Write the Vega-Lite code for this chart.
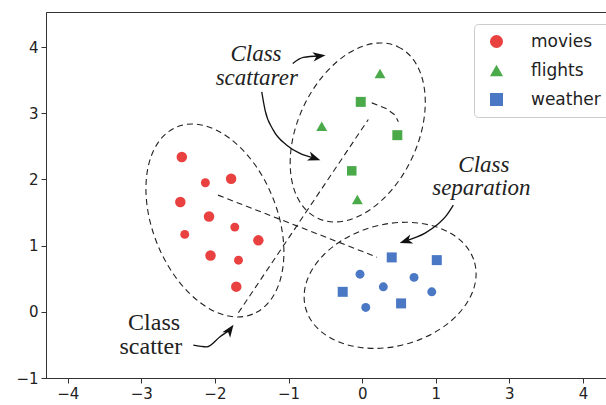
{
  "$schema": "https://vega.github.io/schema/vega-lite/v6.json",
  "width": 560,
  "height": 366,
  "autosize": "none",
  "padding": {"left": 46, "top": 12, "right": 0, "bottom": 27},
  "background": "white",
  "config": {
    "view": {"stroke": "#333", "strokeWidth": 1},
    "axis": {"domainColor": "#333", "tickColor": "#333", "labelColor": "#222", "labelFont": "DejaVu Sans", "labelFontSize": 15, "tickSize": 5, "labelPadding": 3, "grid": false, "title": null, "labelFlush": false},
    "legend": {"labelFont": "DejaVu Sans", "labelFontSize": 17, "labelColor": "#222"}
  },
  "datasets": {
    "points": [
      {"x": -2.45, "y": 2.34, "category": "movies", "marker": "circle", "weight": "large"},
      {"x": -2.13, "y": 1.95, "category": "movies", "marker": "circle", "weight": "small"},
      {"x": -1.78, "y": 2.01, "category": "movies", "marker": "circle", "weight": "large"},
      {"x": -2.47, "y": 1.66, "category": "movies", "marker": "circle", "weight": "large"},
      {"x": -2.08, "y": 1.44, "category": "movies", "marker": "circle", "weight": "large"},
      {"x": -1.73, "y": 1.28, "category": "movies", "marker": "circle", "weight": "small"},
      {"x": -2.41, "y": 1.17, "category": "movies", "marker": "circle", "weight": "small"},
      {"x": -1.41, "y": 1.08, "category": "movies", "marker": "circle", "weight": "large"},
      {"x": -2.06, "y": 0.85, "category": "movies", "marker": "circle", "weight": "large"},
      {"x": -1.68, "y": 0.78, "category": "movies", "marker": "circle", "weight": "small"},
      {"x": -1.71, "y": 0.38, "category": "movies", "marker": "circle", "weight": "large"},
      {"x": 0.243, "y": 3.601, "category": "flights", "marker": "triangle", "weight": "xlarge"},
      {"x": -0.019, "y": 3.172, "category": "flights", "marker": "square", "weight": "medium"},
      {"x": -0.549, "y": 2.805, "category": "flights", "marker": "triangle", "weight": "xlarge"},
      {"x": 0.478, "y": 2.669, "category": "flights", "marker": "square", "weight": "medium"},
      {"x": -0.141, "y": 2.13, "category": "flights", "marker": "square", "weight": "medsmall"},
      {"x": -0.065, "y": 1.698, "category": "flights", "marker": "triangle", "weight": "xlarge"},
      {"x": 0.402, "y": 0.822, "category": "weather", "marker": "square", "weight": "medium"},
      {"x": 1.014, "y": 0.781, "category": "weather", "marker": "square", "weight": "medium"},
      {"x": -0.029, "y": 0.569, "category": "weather", "marker": "circle", "weight": "small"},
      {"x": 0.705, "y": 0.52, "category": "weather", "marker": "circle", "weight": "small"},
      {"x": 0.288, "y": 0.378, "category": "weather", "marker": "circle", "weight": "small"},
      {"x": 0.946, "y": 0.302, "category": "weather", "marker": "circle", "weight": "small"},
      {"x": -0.264, "y": 0.302, "category": "weather", "marker": "square", "weight": "medium"},
      {"x": 0.529, "y": 0.127, "category": "weather", "marker": "square", "weight": "medium"},
      {"x": 0.049, "y": 0.066, "category": "weather", "marker": "circle", "weight": "small"}
    ],
    "dashed": [
      {"id": "a", "seq": 1, "x": -1.958, "y": 1.763},
      {"id": "a", "seq": 2, "x": 0.202, "y": 0.826},
      {"id": "b", "seq": 1, "x": -1.682, "y": -0.015},
      {"id": "b", "seq": 2, "x": 0.084, "y": 2.906},
      {"id": "c", "seq": 1, "x": 0.131, "y": 3.157},
      {"id": "c", "seq": 2, "x": 0.324, "y": 3.073},
      {"id": "c", "seq": 3, "x": 0.447, "y": 2.972},
      {"id": "c", "seq": 4, "x": 0.492, "y": 2.87}
    ],
    "arrows": [
      {"arrow": 1, "seq": 1, "x": -0.943, "y": 3.752},
      {"arrow": 1, "seq": 2, "x": -0.799, "y": 3.843},
      {"arrow": 1, "seq": 3, "x": -0.583, "y": 3.865},
      {"arrow": 2, "seq": 1, "x": -1.364, "y": 3.323},
      {"arrow": 2, "seq": 2, "x": -1.319, "y": 3.049},
      {"arrow": 2, "seq": 3, "x": -1.207, "y": 2.745},
      {"arrow": 2, "seq": 4, "x": -1.024, "y": 2.518},
      {"arrow": 2, "seq": 5, "x": -0.844, "y": 2.393},
      {"arrow": 2, "seq": 6, "x": -0.649, "y": 2.322},
      {"arrow": 3, "seq": 1, "x": 1.239, "y": 1.612},
      {"arrow": 3, "seq": 2, "x": 1.149, "y": 1.461},
      {"arrow": 3, "seq": 3, "x": 1.014, "y": 1.31},
      {"arrow": 3, "seq": 4, "x": 0.855, "y": 1.189},
      {"arrow": 3, "seq": 5, "x": 0.592, "y": 1.071},
      {"arrow": 4, "seq": 1, "x": -2.293, "y": -0.503},
      {"arrow": 4, "seq": 2, "x": -2.111, "y": -0.529},
      {"arrow": 4, "seq": 3, "x": -1.931, "y": -0.378},
      {"arrow": 4, "seq": 4, "x": -1.797, "y": -0.273}
    ],
    "heads": [
      {"arrow": 1, "x": -0.583, "y": 3.865, "heading": -8},
      {"arrow": 2, "x": -0.649, "y": 2.322, "heading": 19},
      {"arrow": 3, "x": 0.592, "y": 1.071, "heading": 162},
      {"arrow": 4, "x": -1.797, "y": -0.273, "heading": -55}
    ],
    "italic": [
      {"x": -1.442, "y": 3.787, "label": "Class"},
      {"x": -1.432, "y": 3.425, "label": "scattarer"},
      {"x": 1.654, "y": 2.115, "label": "Class"},
      {"x": 1.62, "y": 1.763, "label": "separation"}
    ],
    "upright": [
      {"x": -2.827, "y": -0.277, "label": "Class"},
      {"x": -2.871, "y": -0.639, "label": "scatter"}
    ]
  },
  "encoding": {
    "x": {"field": "x", "type": "quantitative", "scale": {"domain": [-4.295, 3.313], "nice": false, "zero": false},
      "axis": {"values": [-4, -3, -2, -1, 0, 1, 2, 3], "labelExpr": "datum.value >= 2 ? format(datum.value + 1, 'd') : format(datum.value, 'd')"}},
    "y": {"field": "y", "type": "quantitative", "scale": {"domain": [-1, 4.53], "nice": false, "zero": false},
      "axis": {"values": [-1, 0, 1, 2, 3, 4]}}
  },
  "layer": [
    {
      "data": {"values": [{"x": -2.0, "y": 1.38}]},
      "mark": {"type": "point", "filled": false, "stroke": "#222", "strokeWidth": 1.1, "strokeDash": [6, 4], "opacity": 1, "angle": 68, "size": 40804,
        "shape": "M 1 0 C 1 0.340 0.5523 0.616 0 0.616 C -0.5523 0.616 -1 0.340 -1 0 C -1 -0.340 -0.5523 -0.616 0 -0.616 C 0.5523 -0.616 1 -0.340 1 0 Z"}
    },
    {
      "data": {"values": [{"x": -0.06, "y": 2.71}]},
      "mark": {"type": "point", "filled": false, "stroke": "#222", "strokeWidth": 1.1, "strokeDash": [6, 4], "opacity": 1, "angle": -65, "size": 35872,
        "shape": "M 1 0 C 1 0.350 0.5523 0.634 0 0.634 C -0.5523 0.634 -1 0.350 -1 0 C -1 -0.350 -0.5523 -0.634 0 -0.634 C 0.5523 -0.634 1 -0.350 1 0 Z"}
    },
    {
      "data": {"values": [{"x": 0.38, "y": 0.40}]},
      "mark": {"type": "point", "filled": false, "stroke": "#222", "strokeWidth": 1.1, "strokeDash": [6, 4], "opacity": 1, "angle": -15, "size": 30625,
        "shape": "M 1 0 C 1 0.384 0.5523 0.696 0 0.696 C -0.5523 0.696 -1 0.384 -1 0 C -1 -0.384 -0.5523 -0.696 0 -0.696 C 0.5523 -0.696 1 -0.384 1 0 Z"}
    },
    {
      "data": {"name": "dashed"},
      "mark": {"type": "line", "stroke": "#222", "strokeWidth": 1.1, "strokeDash": [6, 4]},
      "encoding": {"detail": {"field": "id"}, "order": {"field": "seq", "type": "quantitative"}}
    },
    {
      "data": {"name": "arrows"},
      "mark": {"type": "line", "stroke": "#111", "strokeWidth": 1.3, "interpolate": "monotone"},
      "encoding": {"detail": {"field": "arrow"}, "order": {"field": "seq", "type": "quantitative"}}
    },
    {
      "data": {"name": "heads"},
      "mark": {"type": "point", "filled": true, "color": "#111", "opacity": 1, "size": 160, "shape": "M 1 0 L -1 -0.75 L -0.45 0 L -1 0.75 Z"},
      "encoding": {"angle": {"field": "heading", "type": "quantitative", "scale": null}}
    },
    {
      "data": {"name": "italic"},
      "mark": {"type": "text", "font": "Liberation Serif", "fontStyle": "italic", "fontSize": 23, "color": "#222", "align": "center", "baseline": "alphabetic"},
      "encoding": {"text": {"field": "label"}}
    },
    {
      "data": {"name": "upright"},
      "mark": {"type": "text", "font": "Liberation Serif", "fontSize": 24, "color": "#222", "align": "center", "baseline": "alphabetic"},
      "encoding": {"text": {"field": "label"}}
    },
    {
      "data": {"name": "points"},
      "mark": {"type": "point", "filled": true, "opacity": 1, "strokeWidth": 0},
      "encoding": {
        "color": {"field": "category", "type": "nominal",
          "scale": {"domain": ["movies", "flights", "weather"], "range": ["#e8413f", "#4aaa4a", "#4a78c4"]},
          "legend": {"title": null, "orient": "none", "legendX": 428, "legendY": 12, "padding": 9, "symbolOffset": 5, "labelOffset": 26, "rowPadding": 11,
            "strokeColor": "#cccccc", "fillColor": "rgba(255,255,255,0.85)", "cornerRadius": 4, "symbolSize": 170, "symbolStrokeWidth": 0, "symbolOpacity": 1,
            "encode": {"symbols": {"update": {"shape": {"signal": "datum.value === 'movies' ? 'circle' : datum.value === 'flights' ? 'triangle-up' : 'square'"}}}}}},
        "shape": {"field": "marker", "type": "nominal", "scale": {"domain": ["circle", "triangle", "square"], "range": ["circle", "triangle-up", "square"]}, "legend": null},
        "size": {"field": "weight", "type": "ordinal", "scale": {"domain": ["small", "medsmall", "medium", "large", "xlarge"], "range": [80, 120, 150, 180, 230]}, "legend": null}
      }
    }
  ]
}
